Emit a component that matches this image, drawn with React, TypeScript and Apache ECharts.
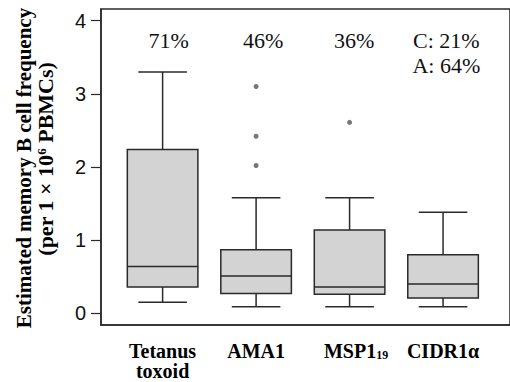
import React, { useEffect, useRef } from "react";
import * as echarts from "echarts";

// Categories (rich-text keyed labels) and box statistics
const categories = ["Tetanus\ntoxoid", "AMA1", "MSP1_19", "CIDR1α"];
const whiskerLow = [0.15, 0.09, 0.09, 0.09];
const q1 = [0.36, 0.27, 0.26, 0.21];
const median = [0.64, 0.51, 0.36, 0.4];
const q3 = [2.24, 0.87, 1.14, 0.8];
const whiskerHigh = [3.3, 1.58, 1.58, 1.38];
// outliers: [category position, value]
const outliers = [
  [2, 2.02],
  [2, 2.42],
  [2, 3.1],
  [3, 2.61],
];
const yTicks = [0, 1, 2, 3, 4];
const pctLabels = ["71%", "46%", "36%", "C: 21%\nA: 64%"];
const pctPos = [
  [1.065, 3.736],
  [2.075, 3.736],
  [3.05, 3.736],
  [4.035, 3.565],
];

const serif = "Liberation Serif";
const sans = "Liberation Sans";

export default function App() {
  const ref = useRef<HTMLDivElement>(null);
  useEffect(() => {
    document.body.style.margin = "0";
    const chart = echarts.init(ref.current!, null, { renderer: "svg" });
    const boxData = categories.map((_, i) => [
      i + 1,
      whiskerLow[i],
      q1[i],
      median[i],
      q3[i],
      whiskerHigh[i],
    ]);
    const stroke = "#2a2a2a";
    chart.setOption({
      animation: false,
      textStyle: { fontFamily: serif },
      grid: {
        left: 101,
        top: 9,
        width: 420,
        height: 316,
        show: true,
        borderColor: stroke,
        borderWidth: 1.5,
        backgroundColor: "transparent",
      },
      xAxis: {
        type: "value",
        min: 0.341,
        max: 4.716,
        splitLine: { show: false },
        axisLine: { show: true, onZero: false, lineStyle: { color: stroke, width: 1.5 } },
        axisTick: { show: false },
        axisLabel: {
          customValues: [1, 2, 3, 4],
          margin: 16,
          formatter: (v: number) => {
            const c = categories[Math.round(v) - 1];
            if (c === undefined) return "";
            if (c.includes("_")) {
              const [a, b] = c.split("_");
              return `{pad|}{b|${a}}{sub|${b}}`;
            }
            return c
              .split("\n")
              .map((s) => `{b|${s}}`)
              .join("\n");
          },
          rich: {
            b: {
              fontFamily: serif,
              fontWeight: "bold",
              fontSize: 20,
              lineHeight: 20,
              color: "#000",
            },
            sub: {
              fontFamily: serif,
              fontWeight: "bold",
              fontSize: 12,
              lineHeight: 6,
              verticalAlign: "bottom",
              color: "#000",
            },
            pad: { width: 13 },
          },
        },
      },
      yAxis: {
        type: "value",
        min: -0.16,
        max: 4.16,
        splitLine: { show: false },
        axisLine: { show: true, onZero: false, lineStyle: { color: stroke, width: 1.5 } },
        axisTick: {
          show: true,
          customValues: yTicks,
          length: 10,
          lineStyle: { color: stroke, width: 1.2 },
        },
        axisLabel: {
          customValues: yTicks,
          margin: 15,
          fontFamily: sans,
          fontSize: 20,
          color: "#111",
        },
      },
      graphic: [
        {
          type: "text",
          x: 24,
          y: 168,
          rotation: Math.PI / 2,
          style: {
            text: "Estimated memory B cell frequency",
            fontFamily: serif,
            fontWeight: "bold",
            fontSize: 21,
            fill: "#000",
            align: "center",
            verticalAlign: "middle",
          },
        },
        {
          type: "text",
          x: 45.5,
          y: 159,
          rotation: Math.PI / 2,
          style: {
            text: "{n|(per 1 × 10}{sup|6}{n| PBMCs)}",
            align: "center",
            verticalAlign: "middle",
            rich: {
              n: {
                fontFamily: serif,
                fontWeight: "bold",
                fontSize: 22,
                lineHeight: 22,
                fill: "#000",
              },
              sup: {
                fontFamily: serif,
                fontWeight: "bold",
                fontSize: 13,
                lineHeight: 8,
                verticalAlign: "top",
                fill: "#000",
              },
            },
          },
        },
      ],
      series: [
        {
          type: "custom",
          data: boxData,
          encode: { x: 0, y: [1, 2, 3, 4, 5] },
          renderItem: (params: any, api: any) => {
            const x = api.value(0);
            const pLow = api.coord([x, api.value(1)]);
            const pQ1 = api.coord([x, api.value(2)]);
            const pMed = api.coord([x, api.value(3)]);
            const pQ3 = api.coord([x, api.value(4)]);
            const pHigh = api.coord([x, api.value(5)]);
            const unit = api.size([1, 0])[0];
            const bw = unit * 0.755;
            const cw = unit * 0.52;
            const cx = pMed[0];
            const ls = { stroke, lineWidth: 1.5, fill: "none" };
            return {
              type: "group",
              children: [
                { type: "line", shape: { x1: cx, y1: pQ3[1], x2: cx, y2: pHigh[1] }, style: ls },
                { type: "line", shape: { x1: cx, y1: pQ1[1], x2: cx, y2: pLow[1] }, style: ls },
                { type: "line", shape: { x1: cx - cw / 2, y1: pHigh[1], x2: cx + cw / 2, y2: pHigh[1] }, style: ls },
                { type: "line", shape: { x1: cx - cw / 2, y1: pLow[1], x2: cx + cw / 2, y2: pLow[1] }, style: ls },
                {
                  type: "rect",
                  shape: { x: cx - bw / 2, y: pQ3[1], width: bw, height: pQ1[1] - pQ3[1] },
                  style: { fill: "#d3d3d3", stroke, lineWidth: 1.5 },
                },
                { type: "line", shape: { x1: cx - bw / 2, y1: pMed[1], x2: cx + bw / 2, y2: pMed[1] }, style: ls },
              ],
            };
          },
          z: 2,
        },
        {
          type: "scatter",
          data: outliers,
          symbol: "circle",
          symbolSize: 5,
          itemStyle: { color: "#555" },
          z: 3,
        },
        {
          type: "custom",
          data: pctPos,
          encode: { x: 0, y: 1 },
          silent: true,
          renderItem: (params: any, api: any) => {
            const p = api.coord([api.value(0), api.value(1)]);
            return {
              type: "text",
              x: p[0],
              y: p[1],
              style: {
                text: pctLabels[params.dataIndex],
                fontFamily: serif,
                fontSize: 22,
                lineHeight: 25,
                fill: "#111",
                align: "center",
                verticalAlign: "middle",
              },
            };
          },
          z: 4,
        },
      ],
    });
    return () => chart.dispose();
  }, []);
  return <div ref={ref} style={{ width: 510, height: 382 }} />;
}
